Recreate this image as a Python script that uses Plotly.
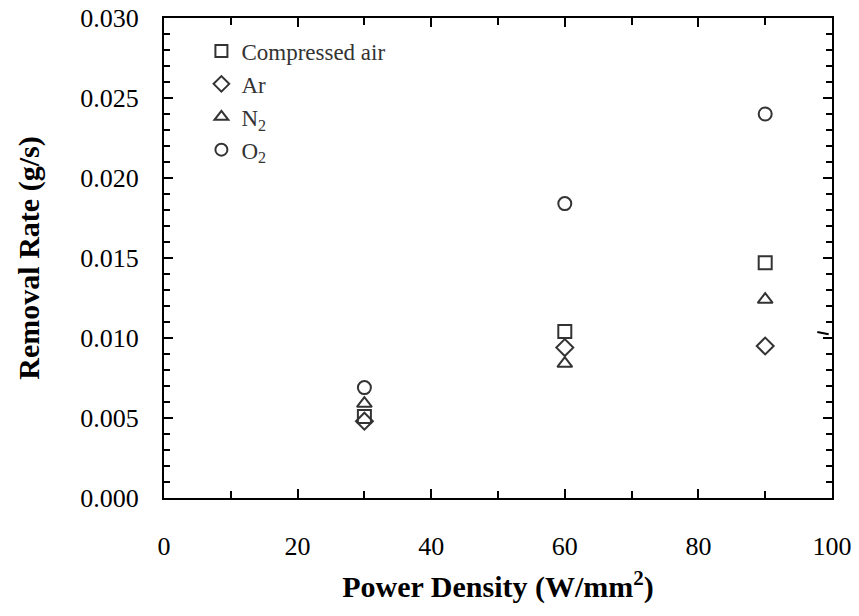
import plotly.graph_objects as go

power = [30, 60, 90]
compressed_air = [0.0051, 0.0104, 0.0147]
argon = [0.0048, 0.0094, 0.0095]
nitrogen = [0.0059, 0.0084, 0.0124]
oxygen = [0.0069, 0.0184, 0.0240]

series = [
    ("Compressed air", compressed_air, "square-open"),
    ("Ar", argon, "diamond-open"),
    ("N<sub>2</sub>", nitrogen, "triangle-up-open"),
    ("O<sub>2</sub>", oxygen, "circle-open"),
]

fig = go.Figure()
for name, vals, sym in series:
    fig.add_trace(go.Scatter(
        x=power, y=vals, mode="markers", name=name,
        marker=dict(symbol=sym, size=13, color="#333333",
                    line=dict(width=2, color="#333333")),
    ))

axis_common = dict(
    showgrid=False, zeroline=False, showline=True, linecolor="black",
    linewidth=2, mirror="allticks", ticks="inside", tickcolor="black",
    tickwidth=2, ticklen=9, automargin=False,
    tickfont=dict(family="Liberation Serif", size=26, color="black"),
)

fig.update_xaxes(
    range=[0, 100], tick0=0, dtick=20,
    minor=dict(dtick=10, ticks="inside", ticklen=7, tickwidth=2, tickcolor="black"),
    ticklabelstandoff=24,
    title=dict(text="<b>Power Density (W/mm<sup>2</sup>)</b>",
               font=dict(family="Liberation Serif", size=30, color="black"),
               standoff=16),
    **axis_common,
)
fig.update_yaxes(
    range=[0, 0.030], tick0=0, dtick=0.005, tickformat=".3f",
    minor=dict(dtick=0.001, ticks="inside", ticklen=6, tickwidth=2, tickcolor="black"),
    ticklabelstandoff=18,
    title=dict(text="<b>Removal Rate (g/s)</b>",
               font=dict(family="Liberation Serif", size=30, color="black"),
               standoff=32),
    **axis_common,
)

# small break mark drawn on the right frame
fig.add_shape(type="line", xref="paper", yref="paper",
              x0=0.978, y0=0.346, x1=0.995, y1=0.341,
              line=dict(color="black", width=2))

fig.update_layout(
    width=859, height=616,
    margin=dict(l=164, r=27, t=18, b=118),
    plot_bgcolor="white", paper_bgcolor="white",
    showlegend=True,
    legend=dict(x=0.056, y=0.976, xanchor="left", yanchor="top",
                bgcolor="rgba(0,0,0,0)", tracegroupgap=0, itemwidth=30,
                itemsizing="constant",
                font=dict(family="Liberation Serif", size=23, color="#333333")),
)

fig.write_html("out.html")
